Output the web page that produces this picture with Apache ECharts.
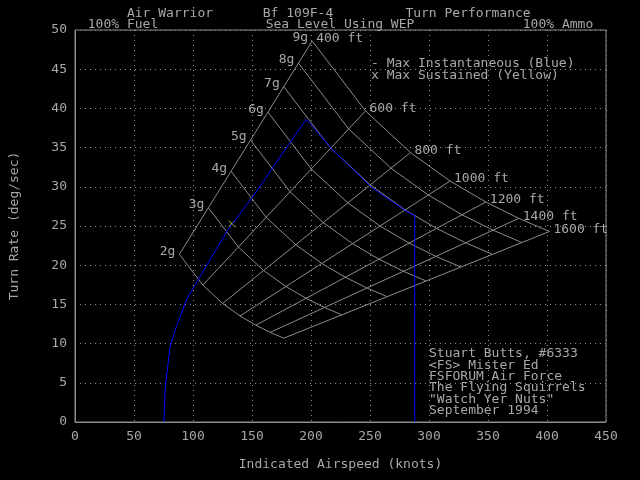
<html lang="en">
<head>
<meta charset="UTF-8">
<title>Bf 109F-4 Turn Performance</title>
<script src="https://cdn.jsdelivr.net/npm/echarts@6/dist/echarts.min.js"></script>
<style>
  html, body { margin: 0; background: #000; }
  #container { width: 640px; height: 480px; }
</style>
</head>
<body>
<div id="container"></div>
<script>
// max instantaneous turn rate (blue): [knots, deg/sec]
var instSpeed = [75.4, 76.3, 80.5, 86.0, 94.5, 105.7, 129.5, 150.5, 167.4, 181.4, 196.2, 217.8, 251.5, 279.5, 287.9, 287.9];
var instRate  = [0, 4.1, 9.6, 12.2, 15.6, 18.5, 24.5, 28.7, 32.4, 35.5, 38.6, 34.8, 29.9, 27.0, 26.3, 0];
// max sustained turn (yellow)
var sustSpeed = [132.9];
var sustRate  = [25.3];
// reference mesh: load factors and turn radii
var gLoads = [2, 3, 4, 5, 6, 7, 8, 9];
var radii  = [400, 600, 800, 1000, 1200, 1400, 1600];

var FONT = 'DejaVu Sans Mono';
var GREY = '#a8a8a8';

// mesh node for load n and radius r (ft): speed in knots, rate in deg/s
function node(n, r) {
    var v = Math.sqrt(32.174 * r * Math.sqrt(n * n - 1));
    return [v / 1.6878, v / r * 180 / Math.PI];
}

var series = [];
var meshStyle = { color: '#8c8c8c', width: 1 };

radii.forEach(function (r) {
    series.push({
        type: 'line', showSymbol: false, silent: true,
        lineStyle: meshStyle, animation: false,
        data: gLoads.map(function (n) { return node(n, r); }),
        endLabel: { show: true, formatter: r + ' ft', color: GREY, fontFamily: FONT, fontSize: 13,
                    align: 'left', verticalAlign: 'middle', distance: 0, offset: [4, -2] }
    });
});
gLoads.forEach(function (n) {
    series.push({
        type: 'line', showSymbol: false, silent: true,
        lineStyle: meshStyle, animation: false,
        data: radii.slice().reverse().map(function (r) { return node(n, r); }),
        endLabel: { show: true, formatter: n + 'g', color: GREY, fontFamily: FONT, fontSize: 13,
                    align: 'right', verticalAlign: 'middle', distance: 0, offset: [-4, -3] }
    });
});

series.push({
    type: 'line', showSymbol: false, animation: false,
    lineStyle: { color: '#0000ff', width: 1 },
    data: instSpeed.map(function (v, i) { return [v, instRate[i]]; })
});
series.push({
    type: 'scatter', animation: false,
    symbol: 'path://M0,0L10,10M10,0L0,10', symbolSize: 6,
    itemStyle: { color: 'none', borderColor: '#ffff00', borderWidth: 1 },
    data: sustSpeed.map(function (v, i) { return [v, sustRate[i]]; })
});

var chart = echarts.init(document.getElementById('container'));

var axisText = { color: GREY, fontFamily: FONT, fontSize: 13 };
var dotted = { show: true, lineStyle: { color: '#8c8c8c', type: [1, 4], width: 1 } };

var textLines = [
    ['Air Warrior', 170, 14], ['Bf 109F-4', 298, 14], ['Turn Performance', 468, 14],
    ['100% Fuel', 123, 25], ['Sea Level Using WEP', 340, 25], ['100% Ammo', 558, 25]
];
var credits = ['Stuart Butts, #6333', '<FS> Mister Ed', 'FSFORUM Air Force',
               'The Flying Squirrels', '"Watch Yer Nuts"', 'September 1994'];

var graphics = textLines.map(function (t) {
    return { type: 'text', x: t[1], y: t[2],
             style: { text: t[0], fill: GREY, font: '13px ' + FONT, align: 'center', verticalAlign: 'middle' } };
});
credits.forEach(function (c, i) {
    graphics.push({ type: 'text', x: 429, y: 354 + i * 11.3,
                    style: { text: c, fill: GREY, font: '13px ' + FONT, verticalAlign: 'middle' } });
});
graphics.push({ type: 'text', x: 371, y: 64,
                style: { text: '- Max Instantaneous (Blue)', fill: GREY, font: '13px ' + FONT, verticalAlign: 'middle' } });
graphics.push({ type: 'text', x: 371, y: 76,
                style: { text: 'x Max Sustained (Yellow)', fill: GREY, font: '13px ' + FONT, verticalAlign: 'middle' } });

var option = {
    backgroundColor: '#000',
    animation: false,
    grid: { left: 71, right: 34, top: 30, bottom: 58, show: true, borderColor: '#8c8c8c', borderWidth: 1 },
    xAxis: {
        type: 'value', min: 0, max: 450, interval: 50,
        name: 'Indicated Airspeed (knots)', nameLocation: 'middle', nameGap: 36, nameTextStyle: axisText,
        axisLine: { lineStyle: { color: '#8c8c8c' } }, axisTick: { show: false },
        axisLabel: axisText, splitLine: dotted
    },
    yAxis: {
        type: 'value', min: 0, max: 50, interval: 5,
        name: 'Turn Rate (deg/sec)', nameLocation: 'middle', nameGap: 54, nameTextStyle: axisText,
        axisLine: { show: true, lineStyle: { color: '#8c8c8c' } }, axisTick: { show: false },
        axisLabel: axisText, splitLine: dotted
    },
    graphic: graphics,
    series: series
};

chart.setOption(option);
</script>
</body>
</html>
